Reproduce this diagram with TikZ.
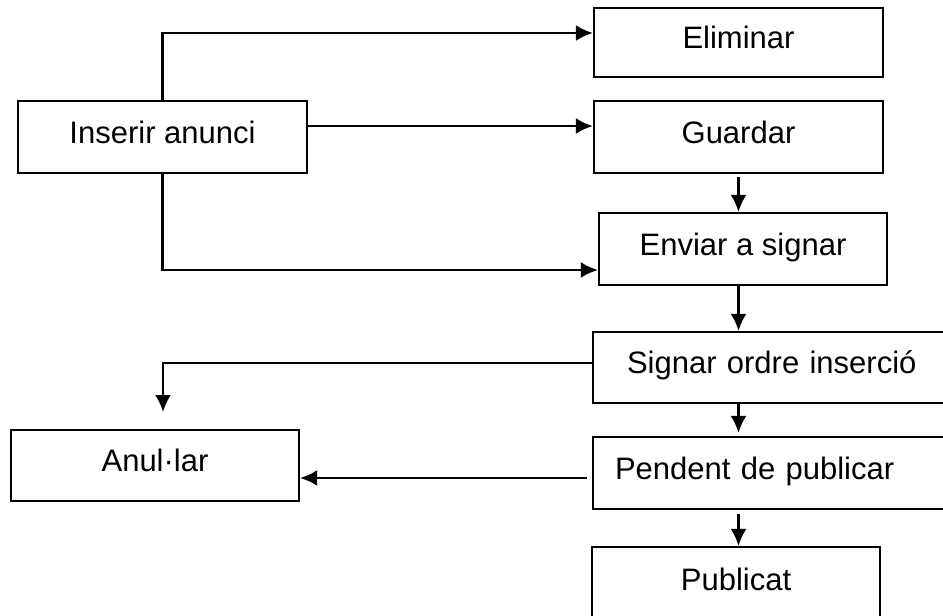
\documentclass[tikz,border=0pt]{standalone}
\usepackage{fontspec}
\setmainfont{Liberation Sans}
\usetikzlibrary{arrows.meta,positioning}

\begin{document}
\begin{tikzpicture}[x=1pt,y=-1pt]

\tikzset{box/.style={draw=black,line width=2.2pt,inner ysep=0mm,text height=22pt,text depth=10pt,
  font=\fontsize{31}{36}\selectfont},
flow/.style={-{Latex[length=17pt,width=16pt]},line width=2.6pt}}

\useasboundingbox (0,0) rectangle (943,616);
\clip (0,0) rectangle (943,616);

% Boxes
\node[box,minimum width=289pt,minimum height=72pt] (inserir) at (162.5,137) {Inserir anunci};
\node[box,minimum width=289pt,minimum height=69pt] (eliminar) at (738.5,42.5) {Eliminar};
\node[box,minimum width=289pt,minimum height=72pt] (guardar) at (738.5,137) {Guardar};
\node[box,minimum width=288pt,minimum height=72pt] (enviar) at (743,249) {Enviar a signar};
\node[box,inner xsep=34pt,text width=299pt,align=left,minimum height=71pt] (signar) at (776.5,367.5) {Signar ordre inserció};
\node[box,inner xsep=22pt,text width=323pt,align=left,minimum height=72pt] (pendent) at (776.5,473) {Pendent de publicar};
\node[box,minimum width=288pt,minimum height=71pt] (anular) at (155,465.5) {Anul·lar};
\node[box,minimum width=288pt,minimum height=74pt] (publicat) at (736,584) {Publicat};

% Helper points
\coordinate (elim-l) at ([yshift=9.5pt]eliminar.west);
\coordinate (ins-r) at ([yshift=11pt]inserir.east);
\coordinate (env-l) at ([yshift=-21pt]enviar.west);
\coordinate (sig-l) at ([yshift=4.5pt]signar.west);
\coordinate (drop) at (163,412);
\coordinate (pen-l) at ([xshift=-5pt,yshift=-5pt]pendent.west);

% Arrows
\draw[flow] (inserir.north) |- (elim-l);
\draw[flow] (ins-r) -- (ins-r -| guardar.west);
\draw[flow] (inserir.south) |- (env-l);

\draw[flow,shorten <=3pt] (guardar.south) -- (guardar.south |- enviar.north);
\draw[flow] (enviar.south -| guardar.south) -- (signar.north -| guardar.south);
\draw[flow,shorten >=3pt] (signar.south -| guardar.south) -- (pendent.north -| guardar.south);
\draw[flow,shorten <=4pt] (pendent.south -| guardar.south) -- (publicat.north -| guardar.south);

\draw[flow] (sig-l) -| (drop);
\draw[flow] (pen-l) -- (pen-l -| anular.east);

\end{tikzpicture}
\end{document}
